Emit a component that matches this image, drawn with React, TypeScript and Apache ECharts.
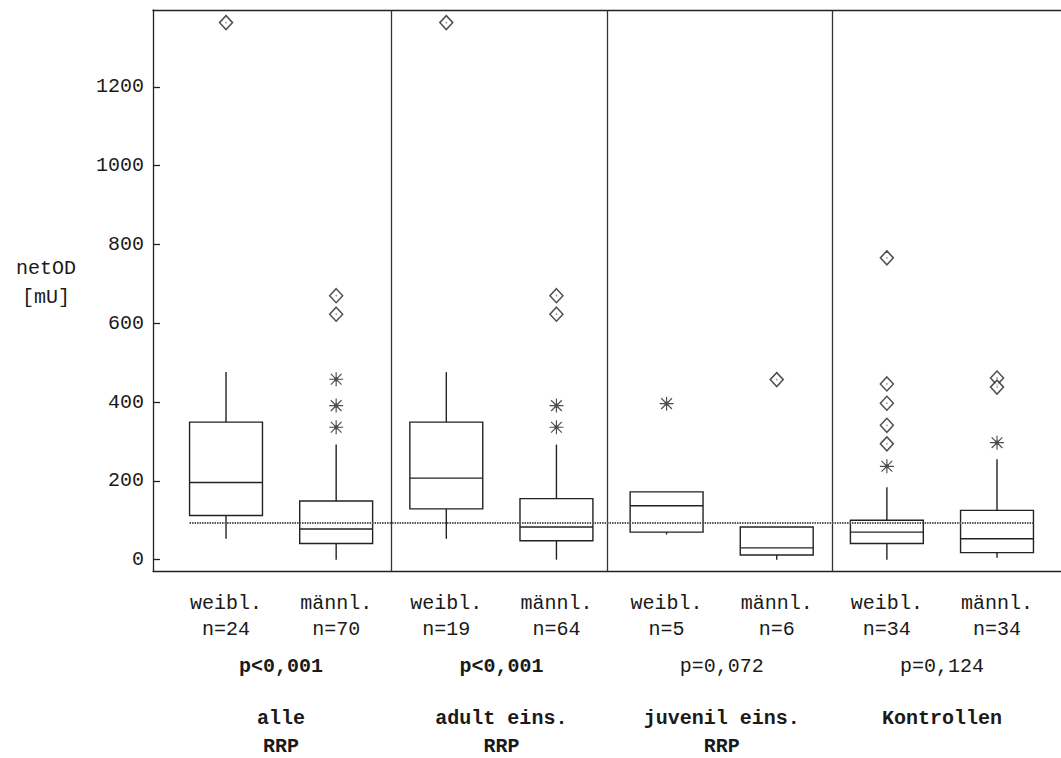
import React, { useEffect, useRef } from "react";
import * as echarts from "echarts";

// Study groups (two boxes each: female / male)
const groupNames = ["alle\nRRP", "adult eins.\nRRP", "juvenil eins.\nRRP", "Kontrollen"];
const sexLabels = ["weibl.", "männl.", "weibl.", "männl.", "weibl.", "männl.", "weibl.", "männl."];
const sampleSizes = [24, 70, 19, 64, 5, 6, 34, 34];
const pValues = ["p<0,001", "p<0,001", "p=0,072", "p=0,124"];
const pSignificant = [true, true, false, false];

// Box statistics per box (netOD in mU)
const whiskerLow = [53, 0, 53, 0, 64, 0, 0, 5];
const quartile1 = [112, 41, 129, 48, 70, 12, 41, 18];
const medians = [196, 78, 207, 83, 137, 30, 70, 53];
const quartile3 = [349, 149, 349, 155, 172, 83, 100, 125];
const whiskerHigh = [476, 292, 476, 292, 172, 83, 184, 255];

// Extreme values (diamonds) and outliers (asterisks) per box
const extremes: number[][] = [[1363], [670, 623], [1363], [670, 623], [], [457], [766, 446, 397, 341, 294], [461, 438]];
const outliers: number[][] = [[], [458, 391, 336], [], [391, 336], [396], [], [237], [297]];

// Cut-off reference value
const cutOff = 93;

// y-axis ticks
const yTicks = [0, 200, 400, 600, 800, 1000, 1200];

// Layout (in box-index units on the x value axis)
const X_MIN = -0.663;
const X_MAX = 7.581;
const BOX_WIDTH = 0.662;
const PANEL_BREAKS = [1.5, 3.465, 5.5];
const Y_MIN = -30;
const Y_MAX = 1395;

const FONT = "'Liberation Mono', 'Courier New', monospace";
const INK = "#1a1a1a";

const asterisk =
  "path://M11,0H13V24H11Z M0,11H24V13H0Z M3.5,2.1L21.9,20.5L20.5,21.9L2.1,3.5Z M20.5,2.1L21.9,3.5L3.5,21.9L2.1,20.5Z M8.5,8.5H15.5V15.5H8.5Z";

export default function App() {
  const ref = useRef<HTMLDivElement>(null);

  useEffect(() => {
    if (!ref.current) return;
    const chart = echarts.init(ref.current, undefined, { renderer: "svg" });

    const boxData = medians.map((_, i) => [i, whiskerLow[i], quartile1[i], medians[i], quartile3[i], whiskerHigh[i]]);
    const diamondData: number[][] = [];
    extremes.forEach((vals, i) => vals.forEach((v) => diamondData.push([i, v])));
    const starData: number[][] = [];
    outliers.forEach((vals, i) => vals.forEach((v) => starData.push([i, v])));

    const boxIdx = sexLabels.map((_, i) => i);
    const groupCenters = groupNames.map((_, g) => g * 2 + 0.5);

    const hiddenX = (extra: any) => ({
      type: "value",
      min: X_MIN,
      max: X_MAX,
      position: "bottom",
      axisLine: { show: false, onZero: false },
      axisTick: { show: false },
      splitLine: { show: false },
      ...extra,
    });

    const option: any = {
      animation: false,
      backgroundColor: "#fff",
      grid: { left: 153, top: 10, right: 0, bottom: 186.5, show: false, containLabel: false, outerBoundsMode: "none" },
      xAxis: [
        {
          type: "value",
          min: X_MIN,
          max: X_MAX,
          position: "bottom",
          axisLine: { show: true, onZero: false, lineStyle: { color: "#222", width: 1.3 } },
          axisTick: { show: false },
          splitLine: { show: false },
          axisLabel: {
            customValues: boxIdx,
            formatter: (v: number) => {
              const i = Math.round(v);
              return `${sexLabels[i]}\nn=${sampleSizes[i]}`;
            },
            margin: 19,
            fontFamily: FONT,
            fontSize: 20,
            lineHeight: 26,
            color: INK,
          },
        },
        {
          type: "value",
          min: X_MIN,
          max: X_MAX,
          position: "top",
          axisLine: { show: true, onZero: false, lineStyle: { color: "#222", width: 1.3 } },
          axisTick: { show: false },
          axisLabel: { show: false },
          splitLine: { show: false },
        },
        hiddenX({
          axisLabel: {
            customValues: groupCenters,
            formatter: (v: number) => {
              const g = Math.round((v - 0.5) / 2);
              return pSignificant[g] ? `{b|${pValues[g]}}` : `{n|${pValues[g]}}`;
            },
            margin: 85,
            rich: {
              b: { fontFamily: FONT, fontSize: 20, fontWeight: "bold", color: INK },
              n: { fontFamily: FONT, fontSize: 20, color: INK },
            },
          },
        }),
        hiddenX({
          axisLabel: {
            customValues: groupCenters,
            formatter: (v: number) => groupNames[Math.round((v - 0.5) / 2)],
            margin: 133,
            fontFamily: FONT,
            fontSize: 20,
            fontWeight: "bold",
            lineHeight: 28,
            color: INK,
          },
        }),
      ],
      yAxis: {
        type: "value",
        min: Y_MIN,
        max: Y_MAX,
        name: "{a|netOD}\n{a|[mU]}\n{s| }",
        nameLocation: "middle",
        nameRotate: 0,
        nameGap: 107,
        nameTextStyle: {
          align: "center",
          verticalAlign: "middle",
          rich: {
            a: { fontFamily: FONT, fontSize: 20, lineHeight: 29, color: INK, align: "center" },
            s: { fontSize: 10, lineHeight: 16 },
          },
        },
        axisLine: { show: true, onZero: false, lineStyle: { color: "#222", width: 1.3 } },
        axisTick: { show: true, inside: true, length: 7, customValues: yTicks, lineStyle: { color: "#222", width: 1.3 } },
        axisLabel: {
          customValues: yTicks,
          formatter: (v: number) => String(v),
          margin: 9,
          fontFamily: FONT,
          fontSize: 20,
          color: INK,
        },
        splitLine: { show: false },
      },
      series: [
        {
          type: "custom",
          xAxisIndex: 0,
          encode: { x: 0, y: [1, 2, 3, 4, 5] },
          data: boxData,
          z: 2,
          renderItem: (params: any, api: any) => {
            const x = api.value(0);
            const lo = api.coord([x, api.value(1)]);
            const q1 = api.coord([x, api.value(2)]);
            const md = api.coord([x, api.value(3)]);
            const q3 = api.coord([x, api.value(4)]);
            const hi = api.coord([x, api.value(5)]);
            const hw = api.size([BOX_WIDTH, 0])[0] / 2;
            const st = { stroke: "#222", lineWidth: 1.4, fill: "none" };
            const children: any[] = [
              { type: "rect", shape: { x: q3[0] - hw, y: q3[1], width: 2 * hw, height: q1[1] - q3[1] }, style: st },
              { type: "line", shape: { x1: md[0] - hw, y1: md[1], x2: md[0] + hw, y2: md[1] }, style: st },
            ];
            if (hi[1] < q3[1] - 0.5) children.push({ type: "line", shape: { x1: hi[0], y1: hi[1], x2: q3[0], y2: q3[1] }, style: st });
            if (lo[1] > q1[1] + 0.5) children.push({ type: "line", shape: { x1: lo[0], y1: lo[1], x2: q1[0], y2: q1[1] }, style: st });
            return { type: "group", children };
          },
        },
        {
          // panel separators
          type: "line",
          xAxisIndex: 0,
          data: [],
          z: 3,
          markLine: {
            silent: true,
            symbol: "none",
            label: { show: false },
            lineStyle: { color: "#333", width: 1.3, type: "solid" },
            data: PANEL_BREAKS.map((b) => [
              { coord: [b, Y_MIN] },
              { coord: [b, Y_MAX] },
            ]),
          },
        },
        {
          // cut-off line
          type: "line",
          xAxisIndex: 0,
          data: [],
          z: 5,
          markLine: {
            silent: true,
            symbol: "none",
            label: { show: false },
            lineStyle: { color: "#555", width: 2, type: [1.5, 1] },
            data: [[{ coord: [-BOX_WIDTH / 2, cutOff] }, { coord: [7 + BOX_WIDTH / 2, cutOff] }]],
          },
        },
        {
          type: "scatter",
          xAxisIndex: 0,
          data: diamondData,
          symbol: "diamond",
          symbolSize: [13, 14],
          itemStyle: { color: "#fff", borderColor: "#222", borderWidth: 1.5 },
          z: 6,
        },
        {
          type: "scatter",
          xAxisIndex: 0,
          data: diamondData,
          symbol: "circle",
          symbolSize: 1.5,
          itemStyle: { color: "#666" },
          z: 7,
        },
        {
          type: "scatter",
          xAxisIndex: 0,
          data: starData,
          symbol: asterisk,
          symbolSize: 14,
          itemStyle: { color: "#222" },
          z: 6,
        },
      ],
    };

    chart.setOption(option);
    return () => chart.dispose();
  }, []);

  return (
    <div
      ref={ref}
      style={{ position: "fixed", left: 0, top: 0, width: 1061, height: 758, background: "#fff" }}
    />
  );
}
